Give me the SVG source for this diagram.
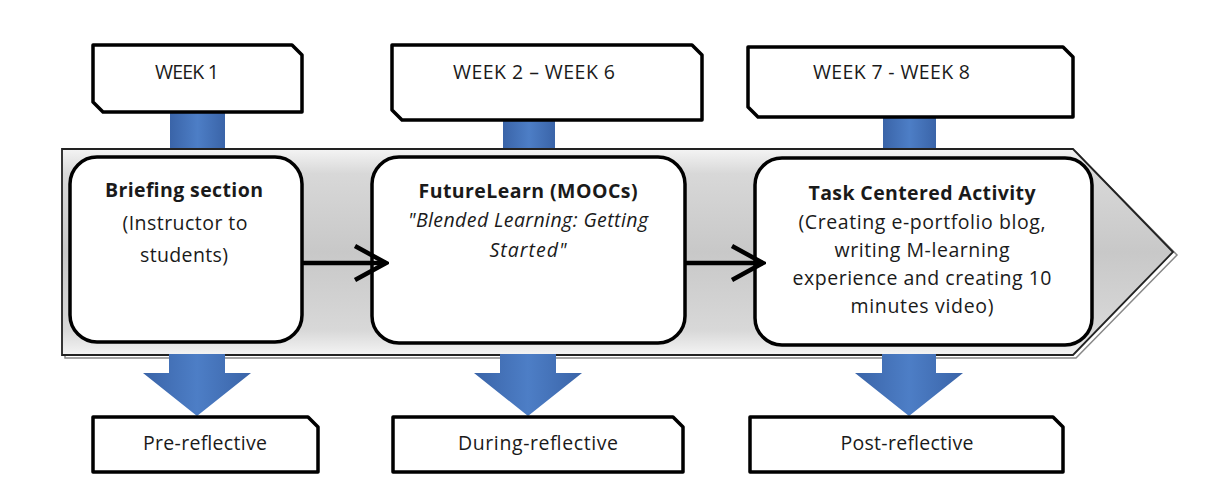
<svg xmlns="http://www.w3.org/2000/svg" width="1209" height="490" viewBox="0 0 1209 490">
  <defs>
    <linearGradient id="band" x1="0" y1="0" x2="0" y2="1">
      <stop offset="0" stop-color="#f4f4f4"/>
      <stop offset="0.12" stop-color="#d8d8d8"/>
      <stop offset="0.5" stop-color="#c8c8c8"/>
      <stop offset="0.88" stop-color="#d8d8d8"/>
      <stop offset="1" stop-color="#f4f4f4"/>
    </linearGradient>
    <linearGradient id="blue" x1="0" y1="0" x2="1" y2="0">
      <stop offset="0" stop-color="#3a64a8"/>
      <stop offset="0.5" stop-color="#4d7ec6"/>
      <stop offset="1" stop-color="#3a64a8"/>
    </linearGradient>
    <marker id="chev" viewBox="0 0 38 40" refX="35" refY="20" markerWidth="38" markerHeight="40" markerUnits="userSpaceOnUse" orient="auto">
      <path d="M4,3 L35,20 L4,37" fill="none" stroke="#000" stroke-width="4.5" stroke-linejoin="miter"/>
    </marker>
    <style>
      .wk { fill:#fff; stroke:#000; stroke-width:3.5; stroke-linejoin:round; }
      .nd { fill:#fff; stroke:#000; stroke-width:3.5; }
      .blue { fill:url(#blue); }
      .t { font-family:"Open Sans","DejaVu Sans",sans-serif; font-size:19.5px; fill:#1a1a1a; }
      .c { text-anchor:middle; }
      .b { font-weight:bold; }
      .i { font-style:italic; }
      .conn { fill:none; stroke:#000; stroke-width:4.5; }
    </style>
  </defs>

  <rect width="1209" height="490" fill="#fff"/>

  <!-- top stems -->
  <g id="stems-top">
    <rect class="blue" x="170" y="110" width="55" height="40"/>
    <rect class="blue" x="503" y="118" width="52" height="32"/>
    <rect class="blue" x="883" y="114" width="53" height="36"/>
  </g>

  <!-- process band -->
  <g id="band-arrow">
    <path d="M65,152 H1076 L1177,255 L1076,358 H65 Z" fill="none" stroke="#888" stroke-width="1.5"/>
    <path d="M62,149 H1073 L1173,252 L1073,355 H62 Z" fill="url(#band)" stroke="#222" stroke-width="1.8"/>
  </g>

  <!-- down arrows -->
  <g id="down-arrows">
    <path class="blue" d="M169,354 H225 V373 H251 L197,416 L143,373 H169 Z"/>
    <path class="blue" d="M500,354 H556 V373 H582 L528,416 L474,373 H500 Z"/>
    <path class="blue" d="M882,354 H936 V373 H963 L909,416 L855,373 H882 Z"/>
  </g>

  <!-- week boxes -->
  <g id="week1">
    <path class="wk" d="M93,45 H292 L302,55 V112 H103 L93,102 Z"/>
    <text class="t" x="155" y="79" textLength="64">WEEK 1</text>
  </g>
  <g id="week2-6">
    <path class="wk" d="M392,45 H692 L702,55 V120 H402 L392,110 Z"/>
    <text class="t" x="453" y="79" textLength="162">WEEK 2 – WEEK 6</text>
  </g>
  <g id="week7-8">
    <path class="wk" d="M748,47 H1063 L1073,57 V117 H758 L748,107 Z"/>
    <text class="t" x="813" y="79" textLength="157">WEEK 7 - WEEK 8</text>
  </g>

  <!-- main nodes -->
  <g id="briefing">
    <rect class="nd" x="70" y="157" width="232" height="185" rx="27"/>
    <text class="t c b" x="184" y="197" textLength="158">Briefing section</text>
    <text class="t c" x="185" y="230" textLength="125">(Instructor to</text>
    <text class="t c" x="184" y="262" textLength="88">students)</text>
  </g>
  <g id="futurelearn">
    <rect class="nd" x="372" y="157" width="313" height="186" rx="27"/>
    <text class="t c b" x="528" y="198" textLength="219">FutureLearn (MOOCs)</text>
    <text class="t c i" x="528" y="227" textLength="240">"Blended Learning: Getting</text>
    <text class="t c i" x="528" y="257" textLength="77">Started"</text>
  </g>
  <g id="task">
    <rect class="nd" x="755" y="158" width="337" height="187" rx="27"/>
    <text class="t c b" x="922" y="200" textLength="227">Task Centered Activity</text>
    <text class="t c" x="922" y="229" textLength="247">(Creating e-portfolio blog,</text>
    <text class="t c" x="922" y="257" textLength="175">writing M-learning</text>
    <text class="t c" x="922" y="285" textLength="259">experience and creating 10</text>
    <text class="t c" x="922" y="313" textLength="143">minutes video)</text>
  </g>

  <!-- connectors -->
  <g id="connectors">
    <path class="conn" d="M302,263 H386" marker-end="url(#chev)"/>
    <path class="conn" d="M685,263 H763" marker-end="url(#chev)"/>
  </g>

  <!-- reflective boxes -->
  <g id="pre">
    <path class="wk" d="M93,417 H308 L318,427 V472 H93 Z"/>
    <text class="t c" x="205" y="450" textLength="124">Pre-reflective</text>
  </g>
  <g id="during">
    <path class="wk" d="M393,417 H673 L683,427 V472 H393 Z"/>
    <text class="t c" x="538" y="450" textLength="160">During-reflective</text>
  </g>
  <g id="post">
    <path class="wk" d="M750,417 H1053 L1063,427 V472 H750 Z"/>
    <text class="t c" x="907" y="450" textLength="133">Post-reflective</text>
  </g>
</svg>
